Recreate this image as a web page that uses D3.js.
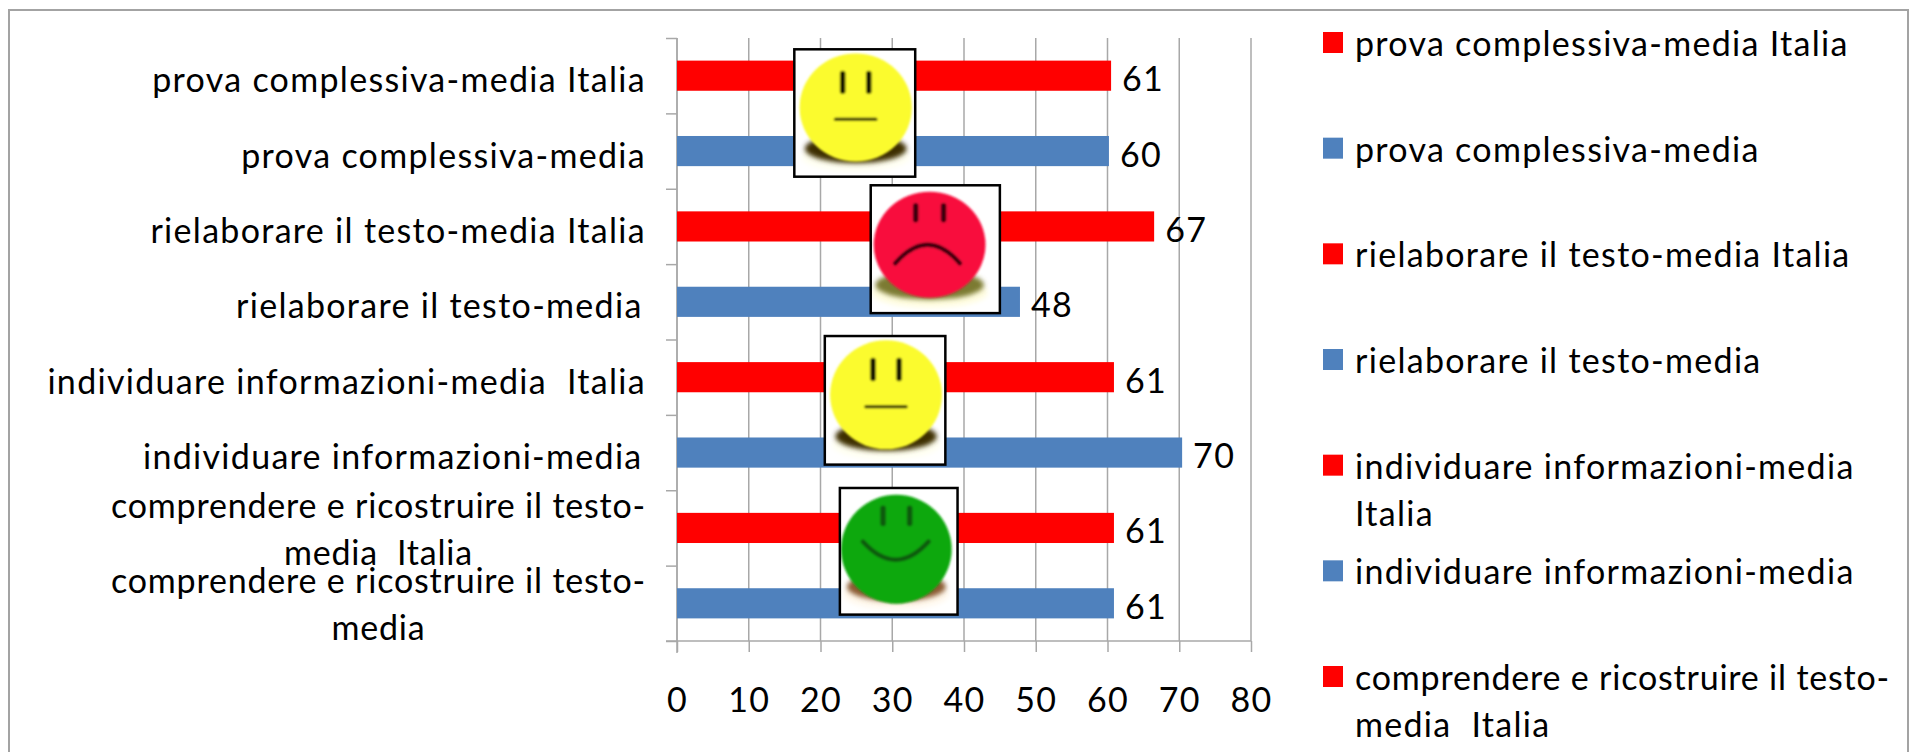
<!DOCTYPE html>
<html>
<head>
<meta charset="utf-8">
<script src="https://cdn.jsdelivr.net/npm/d3@7"></script>
<style>
html,body{margin:0;padding:0;background:#fff;overflow:hidden}
text{font-family:Lato,"Noto Sans",sans-serif;font-size:34px;letter-spacing:1.3px;fill:#000;white-space:pre}
text.tight{letter-spacing:0.8px}
</style>
</head>
<body>
<svg id="c" width="1910" height="752"></svg>
<script>
const categoryLines = [
  ["prova complessiva-media Italia"],
  ["prova complessiva-media"],
  ["rielaborare il testo-media Italia"],
  ["rielaborare il testo-media\u200a"],
  ["individuare informazioni-media  Italia"],
  ["individuare informazioni-media\u200a"],
  ["comprendere e ricostruire il testo-", "media  Italia"],
  ["comprendere e ricostruire il testo-", "media"]
];
const values = [60.5, 60.2, 66.5, 47.8, 60.9, 70.4, 60.9, 60.9];
const seriesKinds = ["italia","scuola","italia","scuola","italia","scuola","italia","scuola"];
const kindColors = {italia:"#ff0000", scuola:"#4f81bd"};
const xTicks = [0,10,20,30,40,50,60,70,80];
const legendLines = [
  ["prova complessiva-media Italia"],
  ["prova complessiva-media"],
  ["rielaborare il testo-media Italia"],
  ["rielaborare il testo-media"],
  ["individuare informazioni-media","Italia"],
  ["individuare informazioni-media"],
  ["comprendere e ricostruire il testo-","media  Italia"]
];
const legendKinds = ["italia","scuola","italia","scuola","italia","scuola","italia"];
// smiley pictures placed in chart units: value range and category-slot range
const faces = [
  {mood:"neutral", fill:"#fbfb2e", shadow:"#3d2f00", halo:"#fffff0", xr:[16.35,33.2], yr:[0.15,1.84]},
  {mood:"sad",     fill:"#f8103c", shadow:"#7c7a30", halo:"#fffde0", xr:[27.0,45.0],  yr:[1.954,3.65]},
  {mood:"neutral", fill:"#fbfb2e", shadow:"#3d2f00", halo:"#fffff0", xr:[20.6,37.4],  yr:[3.954,5.66]},
  {mood:"happy",   fill:"#0da80d", shadow:"#8a5a30", halo:"#fff8ec", xr:[22.7,39.1],  yr:[5.97,7.65]}
];
// shape of each smiley, as fractions of its picture box
const moods = {
  neutral:{cx:.508,cy:.457,rx:.464,ry:.424,eyeDx:.108,eyeTop:.19,eyeBot:.33,ink:"#141400",mouth:[[.34,.55],[.51,.55],[.675,.55]],mouthW:3},
  sad:    {cx:.456,cy:.465,rx:.433,ry:.415,eyeDx:.108,eyeTop:.16,eyeBot:.27,ink:"#3a0610",mouth:[[.19,.61],[.44,.32],[.69,.61]],mouthW:4.5},
  happy:  {cx:.48, cy:.484,rx:.47, ry:.43, eyeDx:.113,eyeTop:.16,eyeBot:.28,ink:"#0b5a0b",mouth:[[.195,.423],[.475,.71],[.754,.423]],mouthW:4.5}
};

const svg = d3.select("#c");
const x = d3.scaleLinear().domain([0,80]).range([677,1251]);
const yLin = d3.scaleLinear().domain([0,8]).range([38,641]);
const y = d3.scaleBand().domain(d3.range(values.length)).range([38,641]).paddingInner(0.6).paddingOuter(0.3);
const grid="#a8a8a8";

const defs = svg.append("defs");
defs.append("filter").attr("id","soft").attr("x","-20%").attr("y","-20%").attr("width","140%").attr("height","140%")
  .append("feGaussianBlur").attr("stdDeviation",0.9);
defs.append("filter").attr("id","softer").attr("x","-30%").attr("y","-60%").attr("width","160%").attr("height","220%")
  .append("feGaussianBlur").attr("stdDeviation",2.5);

// frame (bottom edge lies below the photographed area)
svg.append("path").attr("d","M9,752V10H1908V752").attr("fill","none").attr("stroke","#a3a3a3").attr("stroke-width",2);

// gridlines
svg.append("g").selectAll("line").data(xTicks).join("line")
  .attr("x1",d=>x(d)).attr("x2",d=>x(d)).attr("y1",38).attr("y2",641)
  .attr("stroke",grid).attr("stroke-width",1.5);

// axes
const xAxis = svg.append("g").attr("transform","translate(0,641)")
  .call(d3.axisBottom(x).tickValues(xTicks).tickSize(11).tickPadding(10));
xAxis.selectAll("text").attr("y",71).attr("dy",0);
const yAxis = svg.append("g").attr("transform","translate(677,0)")
  .call(d3.axisLeft(yLin).tickValues(d3.range(9)).tickSize(11).tickFormat(""));
[xAxis,yAxis].forEach(a=>{
  a.selectAll("line").attr("stroke",grid).attr("stroke-width",1.5);
  a.select(".domain").remove();
  a.attr("font-family",null).attr("font-size",null);
});
svg.append("line").attr("x1",666).attr("x2",1251).attr("y1",641).attr("y2",641).attr("stroke",grid).attr("stroke-width",1.5);
svg.append("line").attr("x1",677).attr("x2",677).attr("y1",38).attr("y2",653).attr("stroke",grid).attr("stroke-width",1.5);

// bars
svg.append("g").selectAll("rect").data(values).join("rect")
  .attr("x",x(0)).attr("y",(d,i)=>y(i)).attr("width",d=>x(d)-x(0)).attr("height",y.bandwidth())
  .attr("fill",(d,i)=>kindColors[seriesKinds[i]]);

// value labels
svg.append("g").selectAll("text").data(values).join("text")
  .attr("x",d=>x(d)+11).attr("y",(d,i)=>y(i)+y.bandwidth()/2+15.5)
  .text(d=>d3.format(".0f")(d));

// category labels (wrapped ones are centred under the widest line)
const rightEdge = 646;
const catG = svg.append("g");
categoryLines.forEach((lines,i)=>{
  const mid = y(i)+y.bandwidth()/2;
  const g = catG.append("g");
  const ts = lines.map((l,j)=>g.append("text")
    .attr("class",lines.length>1?"tight":null)
    .attr("y", lines.length>1 ? mid-10+j*47 : mid+16.5)
    .attr("text-anchor","middle").text(l));
  const maxW = d3.max(ts,t=>t.node().getComputedTextLength());
  ts.forEach(t=>t.attr("x",rightEdge-maxW/2));
});

// legend
const legY = d3.scaleLinear().domain([0,6]).range([42.5,676.5]);
const legG = svg.append("g");
legendLines.forEach((lines,i)=>{
  const cy = legY(i);
  legG.append("rect").attr("x",1323).attr("y",cy-10.5).attr("width",20).attr("height",21).attr("fill",kindColors[legendKinds[i]]);
  lines.forEach((l,j)=>legG.append("text")
    .attr("class",l.startsWith("comprendere")?"tight":null)
    .attr("x",1355).attr("y",cy+13.5+j*47).text(l));
});

// smiley pictures
faces.forEach((f,i)=>{
  const m=moods[f.mood];
  const x0=x(f.xr[0]),x1=x(f.xr[1]),y0=yLin(f.yr[0]),y1=yLin(f.yr[1]);
  const w=x1-x0,h=y1-y0;
  const cid="clip"+i;
  defs.append("clipPath").attr("id",cid).append("rect").attr("width",w).attr("height",h);
  const g=svg.append("g").attr("transform",`translate(${x0},${y0})`);
  g.append("rect").attr("width",w).attr("height",h).attr("fill","#fff");
  const inner=g.append("g").attr("clip-path",`url(#${cid})`);
  const px=v=>v*w, py=v=>v*h;
  inner.append("ellipse").attr("cx",px(m.cx)).attr("cy",py(.84)).attr("rx",px(.45)).attr("ry",py(.12))
    .attr("fill",f.halo).attr("filter","url(#softer)");
  inner.append("ellipse").attr("cx",px(m.cx)).attr("cy",py(.78)).attr("rx",px(.42)).attr("ry",py(.115))
    .attr("fill",f.shadow).attr("filter","url(#softer)");
  const fg=inner.append("g").attr("filter","url(#soft)");
  fg.append("ellipse").attr("cx",px(m.cx)).attr("cy",py(m.cy)).attr("rx",px(m.rx)).attr("ry",py(m.ry)).attr("fill",f.fill);
  [-m.eyeDx,m.eyeDx].forEach(dx=>{
    fg.append("line").attr("x1",px(m.cx+dx)).attr("x2",px(m.cx+dx)).attr("y1",py(m.eyeTop)).attr("y2",py(m.eyeBot))
      .attr("stroke",m.ink).attr("stroke-width",5.5).attr("stroke-linecap","round");
  });
  fg.append("path")
    .attr("d",`M${px(m.mouth[0][0])},${py(m.mouth[0][1])}Q${px(m.mouth[1][0])},${py(m.mouth[1][1])} ${px(m.mouth[2][0])},${py(m.mouth[2][1])}`)
    .attr("fill","none").attr("stroke",m.ink).attr("stroke-width",m.mouthW).attr("stroke-linecap","round");
  g.append("rect").attr("width",w).attr("height",h).attr("fill","none").attr("stroke","#000").attr("stroke-width",2.5);
});
</script>
</body>
</html>
